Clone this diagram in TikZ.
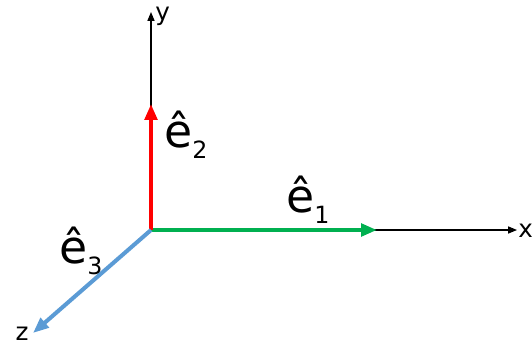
\documentclass[tikz,border=0pt]{standalone}
\usepackage{fontspec}
\setmainfont{DejaVu Sans}
\usetikzlibrary{arrows.meta,positioning}

\definecolor{eone}{RGB}{0,176,80}
\definecolor{etwo}{RGB}{255,0,0}
\definecolor{ethree}{RGB}{91,155,213}

\newcommand{\unitvec}[1]{ê\raisebox{-6.5pt}{\fontsize{13.5}{14}\selectfont #1}}

\begin{document}
\begin{tikzpicture}[
    x=0.02cm, y=-0.02cm,
    axis/.style={-{Triangle[length=5pt,width=4pt]}, line width=0.6pt, black},
    basis/.style={-{Triangle[length=9pt,width=7pt]}, line width=2.3pt},
    axislabel/.style={inner sep=0pt, font=\fontsize{14}{15}\selectfont},
    veclabel/.style={inner sep=0pt, anchor=base west, font=\fontsize{26}{28}\selectfont}
]
\useasboundingbox (0,0) rectangle (532,345);

% axes
\coordinate (origin) at (151,230);
\coordinate (xtip) at (517,230);
\coordinate (ytip) at (151,12);
\coordinate (ztip) at (33,333);
\coordinate (eonetip) at (377,230);
\coordinate (etwotip) at (151,104);

\draw[axis] (origin) -- (xtip);
\draw[axis] (origin) -- (ytip);

\node[axislabel, anchor=west] (xlab) at (518,231) {x};
\node[axislabel, anchor=west] (ylab) at (155,16) {y};
\node[axislabel, anchor=base] (zlab) at (22,340) {z};

% basis vectors
\draw[basis, eone] (origin) -- (eonetip);
\draw[basis, etwo] (origin) -- (etwotip);
\draw[basis, ethree] (origin) -- (ztip);

\node[veclabel] (eone) at (286,212) {\unitvec{1}};
\node[veclabel] (etwo) at (164,147) {\unitvec{2}};
\node[veclabel] (ethree) at (59,263) {\unitvec{3}};

\end{tikzpicture}
\end{document}
